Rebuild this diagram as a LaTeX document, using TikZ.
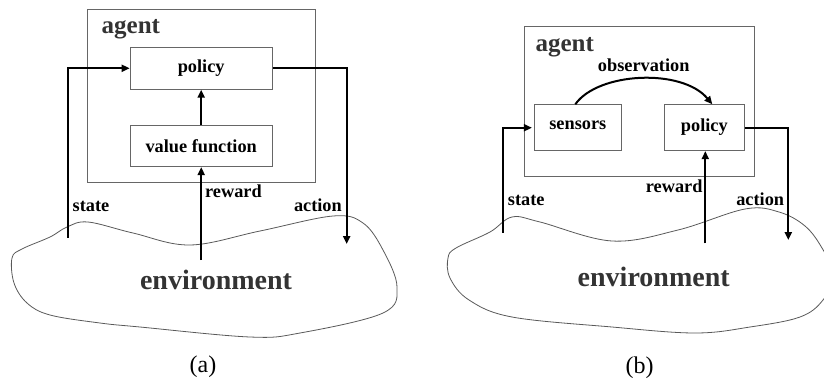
\documentclass[tikz,border=0pt]{standalone}
\usepackage{fontspec}
\setmainfont{Liberation Serif}
\usetikzlibrary{arrows.meta,calc}
\begin{document}
\begin{tikzpicture}[x=1pt,y=-1pt,
  boxa/.style={draw=black!60,line width=0.8pt,rectangle,inner sep=0pt},
  inbox/.style={draw=black!60,line width=0.8pt,rectangle,inner sep=0pt,font=\fontsize{18.3}{20}\selectfont\bfseries},
  lbl/.style={inner sep=0pt,font=\fontsize{18.3}{20}\selectfont\bfseries},
  big/.style={inner sep=0pt,text=black!80,font=\fontsize{25}{28}\selectfont\bfseries},
  env/.style={inner sep=0pt,text=black!80,font=\fontsize{28}{30}\selectfont\bfseries},
  captxt/.style={inner sep=0pt,font=\fontsize{24}{26}\selectfont},
  arr/.style={line width=2pt,-{Triangle[length=8pt,width=7pt]}},
  cloud/.style={draw=black!65,line width=0.8pt}]
\clip (0,0) rectangle (824,380);
% ---------- (a) ----------
\node[boxa,minimum width=228pt,minimum height=173pt] (agA) at (201,95.5) {};
\node[big,anchor=base west] (agAt) at (101.5,33.3) {agent};
\node[inbox,minimum width=142.3pt,minimum height=42pt] (polA) at (201.2,68.3) {policy};
\node[inbox,minimum width=142.3pt,minimum height=41.4pt] (vfA) at (201.2,146) {value function};
\draw[cloud] plot[smooth cycle,tension=0.6] coordinates {(12,258) (22,249) (50,237) (67,227) (88,222) (133,233) (190,245) (260,231) (333,216) (363,223) (383,250) (397,287) (383,313) (300,333) (250,337) (140,327) (100,323) (50,315) (27,303) (14,283)};
\node[env,anchor=base] (envA) at (216,289.5) {environment};
\coordinate (sA) at (67.7,237.7);
\coordinate (aA) at (346.7,244);
\coordinate (rA) at (201.2,260);
\draw[arr] (sA) |- (polA.west);
\draw[arr] (polA.east) -| (aA);
\draw[arr] (rA) -- (vfA.south);
\draw[arr] (vfA.north) -- (polA.south);
\node[lbl,anchor=base west] (stA) at (72.5,211.7) {state};
\node[lbl,anchor=base west] (rwA) at (205,197.5) {reward};
\node[lbl,anchor=base east] (acA) at (342,211.7) {action};
\node[captxt] (capA) at (203,367) {(a)};
% ---------- (b) ----------
\node[boxa,minimum width=229.6pt,minimum height=150.4pt] (agB) at (639.5,101.5) {};
\node[big,anchor=base west] (agBt) at (535.3,51.7) {agent};
\node[inbox,minimum width=87pt,minimum height=46pt] (senB) at (577.8,127.7) {\raisebox{5pt}{sensors}};
\node[inbox,minimum width=80pt,minimum height=46pt] (polB) at (704.3,127.7) {\raisebox{5pt}{policy}};
\draw[cloud] plot[smooth cycle,tension=0.6] coordinates {(448,258) (456,248) (490,232) (512,217) (540,222) (612,241) (678,230) (745,209) (779,212) (805,226) (822,248) (834,275) (823,300) (800,317) (750,327) (695,333) (612,327) (512,317) (469,300) (450,278)};
\node[env,anchor=base] (envB) at (653.7,286) {environment};
\coordinate (sB) at (503,232.7);
\coordinate (aB) at (788.3,240);
\coordinate (rB) at (705.3,243.3);
\draw[arr,shorten >=2pt] (sB) |- (senB.west);
\draw[arr] (polB.east) -| (aB);
\draw[arr] (rB) -- (rB |- polB.south);
\draw[arr] ($(senB.north)+(-2.5,0)$) .. controls (598,72) and (682,68) .. ($(polB.north)+(8,0)$);
\node[lbl,anchor=base] (obsB) at (643.7,71.7) {observation};
\node[lbl,anchor=base west] (stB) at (507.7,205.7) {state};
\node[lbl,anchor=base east] (rwB) at (702.7,192.7) {reward};
\node[lbl,anchor=base east] (acB) at (784.3,205) {action};
\node[captxt] (capB) at (639.7,368) {(b)};
\end{tikzpicture}
\end{document}
